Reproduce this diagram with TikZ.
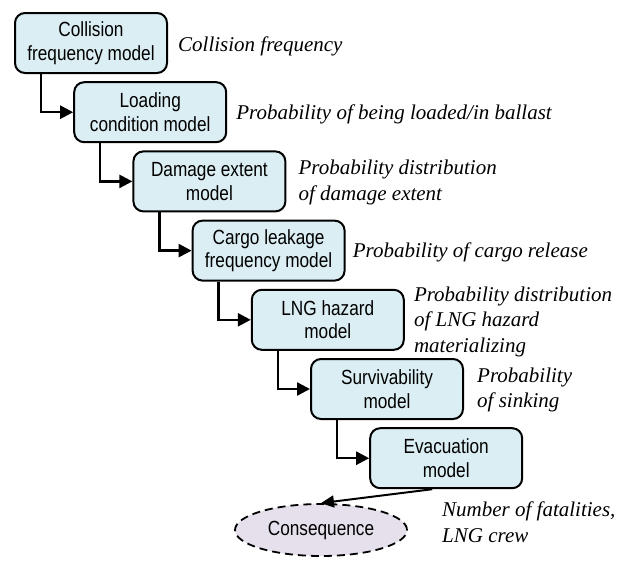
\documentclass[tikz,border=0pt]{standalone}
\usepackage{fontspec}
\setmainfont{Liberation Serif}
\setsansfont{Liberation Sans}
\newfontfamily\boxfont[FakeStretch=0.84]{Liberation Sans}
\usetikzlibrary{arrows.meta,calc,shapes.geometric}
\definecolor{boxfill}{RGB}{219,238,243}
\definecolor{ellfill}{RGB}{229,224,236}
\tikzset{
  model/.style={draw=black, line width=2pt, fill=boxfill, rounded corners=10pt,
    minimum width=152pt, minimum height=60pt, inner sep=0pt, align=center,
    font=\boxfont\fontsize{20.5}{23.5}\selectfont},
  lbl/.style={anchor=west, align=left, inner sep=0pt,
    font=\itshape\fontsize{21}{25.5}\selectfont},
  conn/.style={line width=2.5pt, -{Triangle[length=13pt,width=13pt]}},
  final/.style={line width=2pt, -{Triangle[length=13pt,width=12pt]}},
  cons/.style={ellipse, draw=black, line width=1.8pt, dash pattern=on 8pt off 5pt,
    fill=ellfill, minimum width=172pt, minimum height=52pt, inner sep=0pt,
    font=\boxfont\fontsize{20.5}{23.5}\selectfont}
}
\begin{document}
\begin{tikzpicture}[x=1pt,y=-1pt]
\useasboundingbox (0,0) rectangle (624,560);
\node[model] (b1) at (91,43) {Collision\\frequency model};
\node[model] (b2) at (150.2,112.2) {Loading\\condition model};
\node[model] (b3) at (209.4,181.4) {Damage extent\\model};
\node[model] (b4) at (268.6,250.6) {Cargo leakage\\frequency model};
\node[model] (b5) at (327.8,319.8) {LNG hazard\\model};
\node[model] (b6) at (387,389) {Survivability\\model};
\node[model] (b7) at (446.2,458.2) {Evacuation\\model};
\node[cons] (c) at (321,530) {Consequence};

\node[lbl] (l1) at ($(b1.east)+(10,3)$) {Collision frequency};
\node[lbl] (l2) at ($(b2.east)+(9,2)$) {Probability of being loaded/in ballast};
\node[lbl] (l3) at ($(b3.east)+(12,1)$) {Probability distribution\\of damage extent};
\node[lbl] (l4) at ($(b4.east)+(7,2)$) {Probability of cargo release};
\node[lbl] (l5) at ($(b5.east)+(9,2)$) {Probability distribution\\of LNG hazard\\materializing};
\node[lbl] (l6) at ($(b6.east)+(13,1)$) {Probability\\of sinking};
\node[lbl] (l7) at (442,522) {Number of fatalities,\\LNG crew};

\foreach \a/\b in {b1/b2,b2/b3,b3/b4,b4/b5,b5/b6,b6/b7}{
  \draw[conn] ([xshift=27pt]\a.south west) |- (\b.west);
}
\coordinate (out7) at ([xshift=63pt]b7.south west);
\draw[final] (out7) -- (c.north);
\end{tikzpicture}
\end{document}
